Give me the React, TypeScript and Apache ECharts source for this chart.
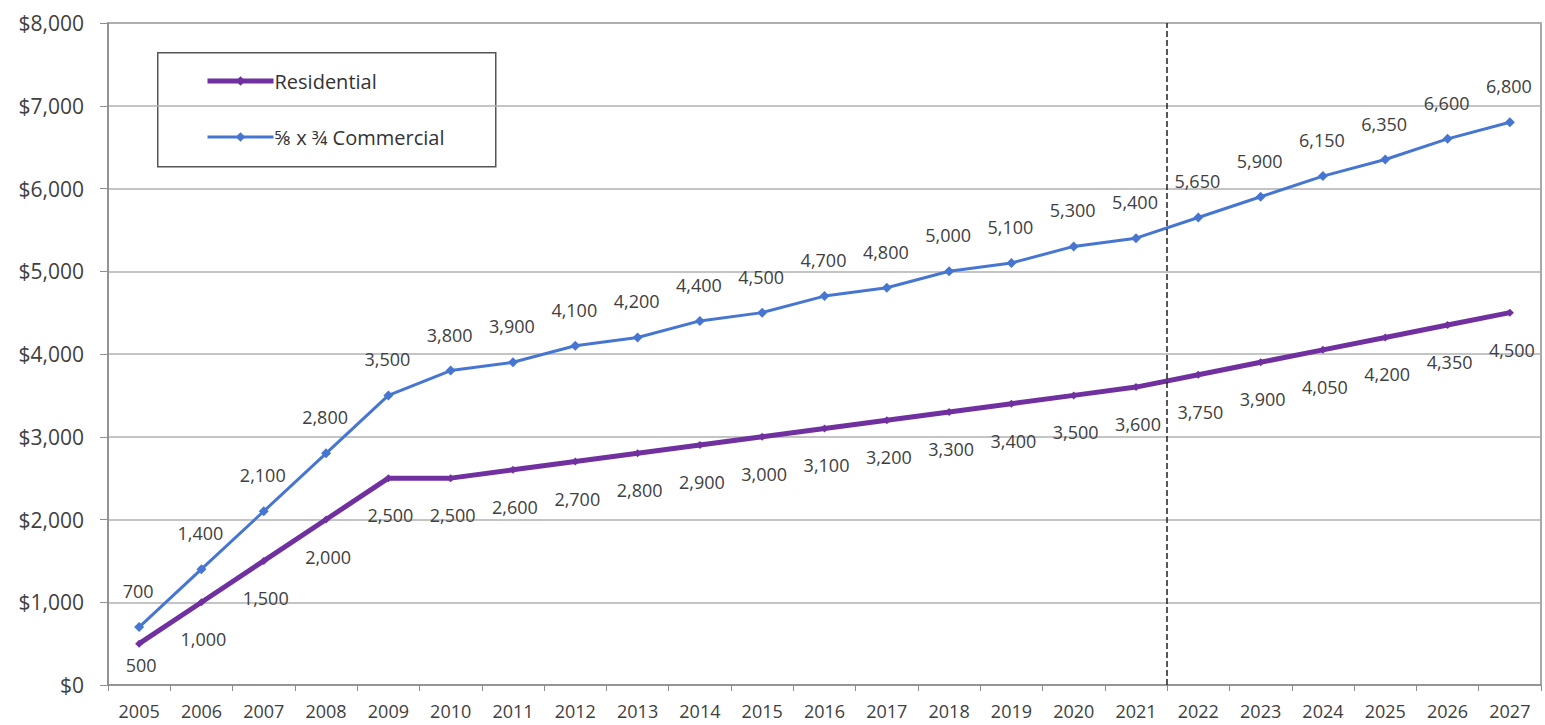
import React, { useEffect, useRef } from "react";
import * as echarts from "echarts";

const years = ["2005","2006","2007","2008","2009","2010","2011","2012","2013","2014","2015","2016","2017","2018","2019","2020","2021","2022","2023","2024","2025","2026","2027"];
const residential = [500,1000,1500,2000,2500,2500,2600,2700,2800,2900,3000,3100,3200,3300,3400,3500,3600,3750,3900,4050,4200,4350,4500];
const commercial = [700,1400,2100,2800,3500,3800,3900,4100,4200,4400,4500,4700,4800,5000,5100,5300,5400,5650,5900,6150,6350,6600,6800];
const dividerPosition = 16.5; // between 2021 and 2022

const FONT = "'Open Sans', 'Noto Sans', sans-serif";
const TEXT = "#404040";
const PURPLE = "#7030A0";
const BLUE = "#4676D2";

export default function App() {
  const ref = useRef<HTMLDivElement>(null);
  useEffect(() => {
    if (!ref.current) return;
    const chart = echarts.init(ref.current, null, { renderer: "svg" });
    const fmt = (v: number) => v.toLocaleString("en-US");
    const resData = residential.map((v, i) =>
      i === 0 ? { value: v, label: { distance: 8 } } : v
    );
    chart.setOption({
      animation: false,
      backgroundColor: "#fff",
      grid: {
        left: 108, right: 4, top: 23, bottom: 40,
        show: true, borderColor: "#8c8c8c", borderWidth: 1.5,
      },
      legend: {
        left: 200, top: 66, orient: "vertical", itemGap: 36,
        itemWidth: 66, itemHeight: 12,
        textStyle: { fontFamily: FONT, fontSize: 20, color: "#333", padding: [0, 0, 0, -4] },
        data: [
          { name: "Residential", lineStyle: { width: 5, color: PURPLE } },
          { name: "⅝ x ¾ Commercial", lineStyle: { width: 3, color: BLUE } },
        ],
      },
      graphic: [
        { type: "rect", left: 157, top: 52, shape: { width: 338, height: 114 },
          style: { fill: "#fff", stroke: "#555", lineWidth: 1.5 }, z: -1, zlevel: 0 },
      ],
      xAxis: [
        {
          type: "category", data: years, boundaryGap: true,
          axisLine: { lineStyle: { color: "#8c8c8c", width: 1.5 } },
          axisTick: { show: true, length: 6, lineStyle: { color: "#8c8c8c" } },
          axisLabel: { fontFamily: FONT, fontSize: 18, color: TEXT, margin: 17 },
        },
        { type: "value", min: -0.5, max: 22.5, show: false },
      ],
      yAxis: {
        type: "value", min: 0, max: 8000, interval: 1000,
        axisLine: { show: true, onZero: false, lineStyle: { color: "#8c8c8c", width: 1.5 } },
        axisTick: { show: true, length: 8, lineStyle: { color: "#8c8c8c" } },
        splitLine: { lineStyle: { color: "#b0b0b0", width: 1.5 } },
        axisLabel: { fontFamily: FONT, fontSize: 21, color: TEXT, margin: 24,
          formatter: (v: number) => "$" + fmt(v) },
      },
      series: [
        {
          name: "Residential", type: "line", data: resData,
          symbol: "diamond", symbolSize: 8,
          lineStyle: { color: PURPLE, width: 5 },
          itemStyle: { color: PURPLE },
          label: { show: true, position: "bottom", distance: 24, offset: [2, 0],
            fontFamily: FONT, fontSize: 18, color: TEXT, formatter: (p: any) => fmt(p.value) },
          z: 3,
        },
        {
          name: "⅝ x ¾ Commercial", type: "line", data: commercial,
          symbol: "diamond", symbolSize: 10,
          lineStyle: { color: BLUE, width: 3 },
          itemStyle: { color: BLUE },
          label: { show: true, position: "top", distance: 22, offset: [-1, 0],
            fontFamily: FONT, fontSize: 18, color: TEXT, formatter: (p: any) => fmt(p.value) },
          z: 3,
        },
        {
          name: "divider", type: "line", xAxisIndex: 1, data: [],
          markLine: {
            silent: true, symbol: "none", label: { show: false },
            lineStyle: { color: "#222", type: "dashed", width: 1.5 },
            data: [{ xAxis: dividerPosition }],
          },
        },
      ],
    });
    return () => chart.dispose();
  }, []);
  return <div ref={ref} style={{ position: "absolute", left: 0, top: 0, width: 1545, height: 725 }} />;
}
